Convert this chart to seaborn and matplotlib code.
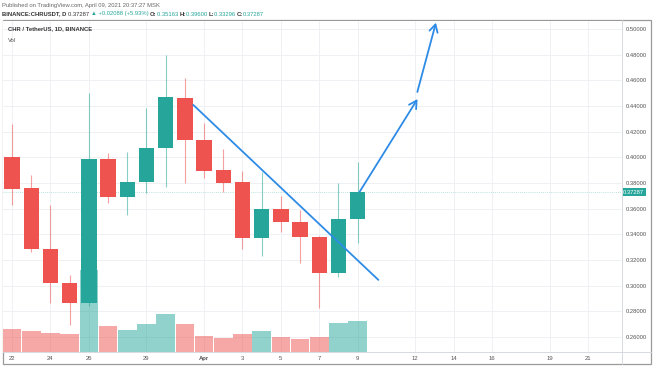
import numpy as np
import pandas as pd
import matplotlib
matplotlib.use("Agg")
import matplotlib.pyplot as plt
import seaborn as sns
from matplotlib.patches import Rectangle

# ---------------- data ----------------
dates = ["Mar 22", "Mar 23", "Mar 24", "Mar 25", "Mar 26", "Mar 27", "Mar 28", "Mar 29",
         "Mar 30", "Mar 31", "Apr 1", "Apr 2", "Apr 3", "Apr 4", "Apr 5", "Apr 6",
         "Apr 7", "Apr 8", "Apr 9"]
opens = [0.4000, 0.3760, 0.3285, 0.3020, 0.2865, 0.3987, 0.3690, 0.3807, 0.4070, 0.4460,
         0.4135, 0.3900, 0.3807, 0.3370, 0.3597, 0.3496, 0.3380, 0.3098, 0.35163]
closes = [0.3750, 0.3285, 0.3020, 0.2865, 0.3987, 0.3690, 0.3807, 0.4070, 0.4470, 0.4135,
          0.3890, 0.3800, 0.3370, 0.3597, 0.3496, 0.3380, 0.3098, 0.3520, 0.37287]
highs = [0.4260, 0.3860, 0.3630, 0.3080, 0.4500, 0.4034, 0.4040, 0.4384, 0.4797, 0.4620,
         0.4267, 0.4065, 0.3890, 0.3885, 0.3700, 0.3590, 0.3390, 0.3800, 0.39600]
lows = [0.3630, 0.3260, 0.2865, 0.2693, 0.2840, 0.3640, 0.3550, 0.3720, 0.3770, 0.3800,
        0.3840, 0.3730, 0.3285, 0.3230, 0.3420, 0.3176, 0.2825, 0.3067, 0.33296]
volumes = [2.30, 2.10, 1.90, 1.80, 8.20, 2.57, 2.20, 2.77, 3.80, 2.77,
           1.57, 1.40, 1.77, 2.13, 1.47, 1.30, 1.47, 2.87, 3.07]

xtick_days = [0, 2, 4, 7, 10, 12, 14, 16, 18, 21, 23, 25, 28, 30]
xtick_labels = ["22", "24", "26", "29", "Apr", "3", "5", "7", "9", "12", "14", "16", "19", "21"]
ytick_values = [0.26, 0.28, 0.30, 0.32, 0.34, 0.36, 0.38, 0.40, 0.42, 0.44, 0.46, 0.48, 0.50]

# trend line and projection arrows (day index, price)
trend_x = [9.44, 19.08]
trend_y = [0.4408, 0.3044]
arrow1 = [(18.11, 0.3732), (21.12, 0.4454)]
arrow2 = [(21.11, 0.4509), (22.08, 0.5049)]

# ---------------- style ----------------
UP = "#26A69A"
DOWN = "#EF5350"
BLUE = "#2E8BE6"
GRID = "#EEF0F4"

sns.set_theme(style="white")
plt.rcParams["font.family"] = ["Liberation Sans", "DejaVu Sans"]

W, H = 654, 366
fig = plt.figure(figsize=(W / 100, H / 100), dpi=100)
fig.patch.set_facecolor("white")

def fx(x):
    return x / W

def fy(y):
    return 1 - y / H

L, R, T, B = 3, 622, 21, 352
ax = fig.add_axes([fx(L), fy(B), fx(R) - fx(L), fy(T) - fy(B)])
ax2 = fig.add_axes([fx(L), fy(B), fx(R) - fx(L), fy(T) - fy(B)], sharex=ax)
ax.set_zorder(1)
ax2.set_zorder(2)
ax2.patch.set_visible(False)

n = len(dates)
idx = np.arange(n)
df = pd.DataFrame({"day": idx, "open": opens, "close": closes, "high": highs,
                   "low": lows, "vol": volumes})
df["dir"] = np.where(df["close"] >= df["open"], "up", "down")

# grid
for d in xtick_days:
    ax.axvline(d, color=GRID, lw=0.7, zorder=0)
for v in ytick_values:
    ax.axhline(v, color=GRID, lw=0.7, zorder=0)

# candles
colors = [UP if c >= o else DOWN for o, c in zip(opens, closes)]
ax.vlines(idx, lows, highs, colors=colors, lw=0.8, alpha=0.55, zorder=2)
bottoms = np.minimum(opens, closes)
heights = np.abs(np.array(closes) - np.array(opens))
ax.bar(idx, heights, bottom=bottoms, width=0.8, color=colors, zorder=3, linewidth=0)

# volume bars (seaborn), translucent on top of candles
sns.barplot(data=df, x="day", y="vol", hue="dir", palette={"up": UP, "down": DOWN},
            native_scale=True, dodge=False, width=0.97, saturation=1, legend=False,
            ax=ax2, linewidth=0, alpha=0.5)
ax2.set_ylim(0, 33.1)
ax2.set_yticks([])
ax2.set_xlabel("")
ax2.set_ylabel("")
ax2.tick_params(axis="x", length=0, labelbottom=False)
for s in ax2.spines.values():
    s.set_visible(False)

ax.set_xlim(-0.47, 31.77)
ax.set_ylim(0.2482, 0.5062)

# price line
ax.axhline(closes[-1], color=UP, lw=0.5, ls=(0, (1, 2)), alpha=0.6, zorder=1)

# trend line & arrows
ax2_tr = ax.transData
ax2.plot([], [])
ax.plot(trend_x, trend_y, color=BLUE, lw=1.3, solid_capstyle="round", zorder=5)
for (x0, y0), (x1, y1) in (arrow1, arrow2):
    ax.annotate("", xy=(x1, y1), xytext=(x0, y0),
                arrowprops=dict(arrowstyle="->,head_length=0.45,head_width=0.25",
                                color=BLUE, lw=1.3, shrinkA=0, shrinkB=0), zorder=5)

# ticks
ax.yaxis.tick_right()
ax.set_yticks(ytick_values)
ax.set_yticklabels([f"{v:.5f}" for v in ytick_values], fontsize=4.2, color="#555555")
ax.tick_params(axis="y", length=0, pad=2.5)
ax.set_xticks(xtick_days)
ax.set_xticklabels(xtick_labels, fontsize=4.2, color="#555555")
ax.tick_params(axis="x", length=0, pad=3, labelbottom=True)
for lab in ax.get_xticklabels():
    if lab.get_text() == "Apr":
        lab.set_fontweight("bold")
ax.set_xlabel("")
ax.set_ylabel("")
for s in ax.spines.values():
    s.set_visible(False)

# current price tag
ax.text(1.002, closes[-1], f"{closes[-1]:.5f}", transform=ax.get_yaxis_transform(),
        fontsize=4.2, color="white", va="center", ha="left",
        bbox=dict(boxstyle="square,pad=0.25", fc=UP, ec="none"), clip_on=False, zorder=10)

# frame & separators
fig.add_artist(Rectangle((fx(3), fy(364)), fx(651) - fx(3), fy(20) - fy(364),
                         transform=fig.transFigure, fill=False, ec="#9A9A9A", lw=0.9))
fig.add_artist(plt.Line2D([fx(R), fx(R)], [fy(364), fy(20)], transform=fig.transFigure,
                          color="#D6D9E0", lw=0.7))
fig.add_artist(plt.Line2D([fx(3), fx(651)], [fy(B), fy(B)], transform=fig.transFigure,
                          color="#D6D9E0", lw=0.7))

# header
fig.text(fx(2), fy(5), "Published on TradingView.com, April 09, 2021 20:37:27 MSK",
         fontsize=4.2, color="#666666", va="center", ha="left")

pieces = [("BINANCE:CHRUSDT, D ", "#333333", "bold"),
          ("0.37287 ", "#333333", "normal"),
          ("▲ +0.02088 (+5.93%) ", UP, "normal"),
          ("O:", "#333333", "bold"), ("0.35163 ", UP, "normal"),
          ("H:", "#333333", "bold"), ("0.39600 ", UP, "normal"),
          ("L:", "#333333", "bold"), ("0.33296 ", UP, "normal"),
          ("C:", "#333333", "bold"), ("0.37287", UP, "normal")]
renderer = fig.canvas.get_renderer()
x = 2.0
for txt, col, wt in pieces:
    t = fig.text(fx(x), fy(14), txt, fontsize=4.2, color=col, fontweight=wt,
                 va="center", ha="left")
    bb = t.get_window_extent(renderer=renderer)
    x += bb.width * (W / fig.bbox.width)

fig.text(fx(8), fy(29), "CHR / TetherUS, 1D, BINANCE", fontsize=4.2, color="#333333",
         fontweight="bold", va="center", ha="left")
fig.text(fx(8), fy(40), "Vol", fontsize=4.2, color="#555555", va="center", ha="left")

fig.savefig("out.png", dpi=100, facecolor="white")
